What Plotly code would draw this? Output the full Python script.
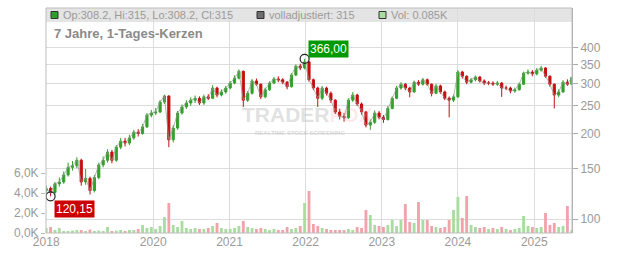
import math
import pandas as pd
import plotly.graph_objects as go

# ---------------- data (3-week candles) ----------------
start_date = "2018-08-06"
n_candles = 121
dates = pd.date_range(start_date, periods=n_candles, freq="21D")

closes = [128, 124, 133, 135, 143, 152, 154, 161, 135, 139,
          126, 140, 155, 161, 172, 161, 179, 188, 185, 193,
          202, 200, 211, 232, 236, 238, 258, 271, 190, 209,
          236, 248, 256, 262, 266, 256, 269, 266, 289, 273,
          280, 289, 301, 313, 331, 262, 277, 306, 298, 269,
          285, 301, 311, 309, 303, 292, 321, 345, 340, 357,
          309, 289, 266, 289, 277, 262, 238, 230, 227, 262,
          273, 254, 238, 214, 219, 236, 228, 224, 245, 266,
          289, 298, 289, 280, 303, 298, 309, 298, 277, 294,
          280, 266, 262, 269, 329, 318, 303, 309, 316, 306,
          301, 301, 298, 301, 289, 289, 282, 285, 298, 326,
          329, 324, 334, 340, 318, 298, 273, 280, 303, 298,
          315]
first_open = 126
opens = [first_open] + closes[:-1]

highs = [131, 130, 135, 140, 147, 158, 160, 165, 163, 150,
         141, 143, 158, 166, 176, 175, 182, 193, 193, 198,
         206, 207, 216, 236, 242, 246, 262, 274, 272, 214,
         240, 253, 262, 268, 272, 270, 274, 275, 296, 292,
         286, 294, 306, 320, 336, 333, 282, 311, 312, 300,
         290, 305, 316, 318, 313, 306, 326, 350, 352, 366,
         360, 312, 292, 294, 292, 281, 264, 244, 236, 266,
         280, 276, 257, 240, 224, 241, 240, 232, 250, 270,
         294, 303, 301, 292, 307, 308, 314, 312, 300, 299,
         297, 283, 270, 274, 334, 332, 320, 314, 320, 318,
         310, 306, 305, 306, 303, 295, 292, 290, 302, 330,
         336, 334, 340, 346, 342, 320, 300, 286, 308, 310,
         316]
lows = [122, 120.15, 122, 130, 133, 141, 148, 151, 131, 132,
        122, 124, 138, 152, 158, 157, 159, 176, 180, 182,
        190, 195, 198, 209, 228, 232, 236, 254, 179, 186,
        206, 233, 244, 250, 256, 252, 252, 262, 264, 268,
        270, 276, 286, 298, 310, 248, 258, 274, 294, 264,
        266, 282, 298, 303, 298, 286, 290, 318, 334, 336,
        304, 284, 248, 262, 272, 256, 234, 224, 220, 225,
        258, 250, 233, 210, 206, 216, 224, 218, 222, 243,
        264, 285, 284, 268, 278, 294, 295, 294, 270, 275,
        276, 262, 228, 258, 267, 312, 298, 300, 305, 302,
        296, 296, 294, 294, 269, 284, 277, 278, 283, 296,
        322, 318, 320, 330, 314, 292, 245, 268, 278, 294,
        296]

volume_k = [0.5, 0.6, 0.3, 0.5, 0.2, 0.2, 0.25, 0.3, 0.3, 0.2,
            0.35, 0.2, 0.25, 0.2, 0.6, 0.2, 0.25, 0.3, 0.2, 0.3,
            0.3, 0.4, 0.8, 0.5, 0.6, 0.4, 0.7, 1.6, 3.0, 0.8,
            0.6, 1.2, 0.5, 0.4, 0.5, 0.4, 0.4, 0.5, 0.7, 1.0,
            0.5, 0.4, 0.4, 0.5, 0.7, 1.2, 0.6, 0.5, 0.4, 0.5,
            0.4, 0.3, 0.4, 0.3, 0.3, 0.6, 0.4, 0.5, 0.7, 3.0,
            4.2, 0.9, 0.7, 0.5, 0.4, 0.3, 0.3, 0.3, 0.3, 0.4,
            0.3, 0.6, 0.5, 2.3, 1.8, 0.8, 0.7, 0.6, 0.8, 1.3,
            0.7, 1.3, 2.9, 1.1, 1.0, 3.1, 1.3, 1.3, 0.7, 0.6,
            0.5, 0.6, 1.3, 2.3, 3.6, 1.5, 3.7, 0.8, 0.6, 0.5,
            0.6, 0.4, 0.5, 0.4, 0.6, 0.4, 0.3, 0.4, 0.5, 1.7,
            0.7, 0.6, 0.5, 0.6, 2.0, 0.8, 1.0, 0.6, 0.7, 2.7,
            0.3]

year_tick_dates = ["2018-08-06", "2020-01-01", "2021-01-01", "2022-01-01",
                   "2023-01-01", "2024-01-01", "2025-01-01"]
year_tick_labels = ["2018", "2020", "2021", "2022", "2023", "2024", "2025"]
price_ticks = [100, 150, 200, 250, 300, 350, 400]
vol_ticks = [0, 2, 4, 6]
vol_tick_labels = ["0,0K", "2,0K", "4,0K", "6,0K"]

max_label = "366,00"
min_label = "120,15"
legend_ohlc = "Op:308.2, Hi:315, Lo:308.2, Cl:315"
legend_adj = "volladjustiert: 315"
legend_vol = "Vol: 0.085K"
title_text = "7 Jahre, 1-Tages-Kerzen"

# ---------------- figure ----------------
GREEN = "#33a02c"
RED = "#c40f0f"
VOL_GREEN = "#a8dca0"
VOL_RED = "#f0a3ab"

vol_colors = [VOL_GREEN if c >= o else VOL_RED for o, c in zip(opens, closes)]

fig = go.Figure()

fig.add_trace(go.Bar(x=dates, y=volume_k, marker=dict(color=vol_colors, line=dict(width=0)),
                     yaxis="y", hoverinfo="skip"))

fig.add_trace(go.Scatter(x=dates, y=closes, mode="lines",
                         line=dict(color="rgba(150,150,150,0.7)", width=1),
                         yaxis="y2", hoverinfo="skip"))

fig.add_trace(go.Candlestick(
    x=dates, open=opens, high=highs, low=lows, close=closes, yaxis="y2",
    increasing=dict(line=dict(color=GREEN, width=1), fillcolor=GREEN),
    decreasing=dict(line=dict(color=RED, width=1), fillcolor=RED),
    whiskerwidth=0,
))

i_max = highs.index(max(highs))
i_min = lows.index(min(lows))
fig.add_trace(go.Scatter(
    x=[dates[i_max], dates[i_min]], y=[highs[i_max], lows[i_min]], mode="markers",
    marker=dict(symbol="circle-open", size=9, color="#222", line=dict(width=1.2)),
    yaxis="y2", hoverinfo="skip"))

grid = "#dcdcdc"
tick_font = dict(family="Liberation Sans, Arial, sans-serif", size=12, color="#9a9a9a")

fig.update_layout(
    width=632, height=253,
    margin=dict(l=46, r=60, t=8, b=20, autoexpand=False),
    paper_bgcolor="white", plot_bgcolor="white",
    showlegend=False,
    bargap=0.35,
    font=dict(family="Liberation Sans, Arial, sans-serif"),
    xaxis=dict(type="date", range=["2018-08-05", "2025-07-01"],
               tickvals=year_tick_dates, ticktext=year_tick_labels,
               showgrid=True, gridcolor=grid, gridwidth=1, zeroline=False,
               showline=False, ticks="", tickfont=tick_font, automargin=False,
               rangeslider=dict(visible=False)),
    yaxis=dict(range=[0, 22.5], side="left", tickvals=vol_ticks, ticktext=vol_tick_labels,
               showgrid=False, zeroline=False, ticks="outside", ticklen=4,
               tickcolor="#bbbbbb", tickfont=tick_font, showline=False, automargin=False),
    yaxis2=dict(type="log", overlaying="y", side="right",
                range=[math.log10(89.3), math.log10(552.6)],
                tickvals=price_ticks, ticktext=[str(v) for v in price_ticks],
                showgrid=True, gridcolor=grid, gridwidth=1, zeroline=False,
                ticks="outside", ticklen=5, tickcolor="#aaaaaa",
                showline=True, linecolor="#aaaaaa", linewidth=1,
                tickfont=tick_font, automargin=False),
)

PW, PH = 526.0, 225.0
def px(x):
    return (x - 46) / PW
def py(y):
    return (233 - y) / PH

shapes = [
    dict(type="rect", xref="paper", yref="paper", x0=0, x1=1, y0=py(22), y1=1,
         fillcolor="#e4e4e4", line=dict(width=0), layer="below"),
    dict(type="rect", xref="paper", yref="paper", x0=0, x1=1, y0=0, y1=1,
         line=dict(color="#bdbdbd", width=1), fillcolor="rgba(0,0,0,0)", layer="above"),
    dict(type="rect", xref="paper", yref="paper", x0=px(51), x1=px(58), y0=py(18.5), y1=py(11.5),
         fillcolor="#2ea02a", line=dict(color="#333", width=1), layer="above"),
    dict(type="rect", xref="paper", yref="paper", x0=px(257), x1=px(264), y0=py(18.5), y1=py(11.5),
         fillcolor="#6e6e6e", line=dict(color="#333", width=1), layer="above"),
    dict(type="rect", xref="paper", yref="paper", x0=px(379), x1=px(386), y0=py(18.5), y1=py(11.5),
         fillcolor="#a8dca0", line=dict(color="#333", width=1), layer="above"),
]
fig.update_layout(shapes=shapes)

lg_font = dict(family="Liberation Sans, Arial, sans-serif", size=11, color="#9a9a9a")
annotations = [
    dict(xref="paper", yref="paper", x=px(61), y=py(15), text=legend_ohlc, showarrow=False,
         xanchor="left", yanchor="middle", font=lg_font),
    dict(xref="paper", yref="paper", x=px(267), y=py(15), text=legend_adj, showarrow=False,
         xanchor="left", yanchor="middle", font=lg_font),
    dict(xref="paper", yref="paper", x=px(389), y=py(15), text=legend_vol, showarrow=False,
         xanchor="left", yanchor="middle", font=lg_font),
    dict(xref="paper", yref="paper", x=px(52), y=py(33), text="<b>" + title_text + "</b>",
         showarrow=False, xanchor="left", yanchor="middle",
         font=dict(family="Liberation Sans, Arial, sans-serif", size=13, color="#8a8a8a")),
    dict(xref="paper", yref="paper", x=px(307), y=py(114),
         text="<b>TRADER<span style='color:rgba(240,160,160,0.45)'>FOX</span></b>",
         showarrow=False, xanchor="center", yanchor="middle",
         font=dict(family="Liberation Sans, Arial, sans-serif", size=21, color="rgba(195,195,195,0.5)")),
    dict(xref="paper", yref="paper", x=px(300), y=py(133), text="<b>REALTIME STOCK SCREENING</b>",
         showarrow=False, xanchor="center", yanchor="middle",
         font=dict(family="Liberation Sans, Arial, sans-serif", size=6, color="rgba(195,195,195,0.6)")),
    dict(xref="x", yref="y2", x=dates[i_max], y=math.log10(highs[i_max]), text=max_label,
         showarrow=False, xanchor="left", yanchor="middle", xshift=3, yshift=10,
         bgcolor="#009900", borderpad=1,
         font=dict(family="Liberation Sans, Arial, sans-serif", size=12, color="white")),
    dict(xref="x", yref="y2", x=dates[i_min], y=math.log10(lows[i_min]), text=min_label,
         showarrow=False, xanchor="left", yanchor="top", xshift=3, yshift=-4,
         bgcolor="#cc0000", borderpad=1,
         font=dict(family="Liberation Sans, Arial, sans-serif", size=12, color="white")),
]
fig.update_layout(annotations=annotations)

fig.write_html("out.html")
